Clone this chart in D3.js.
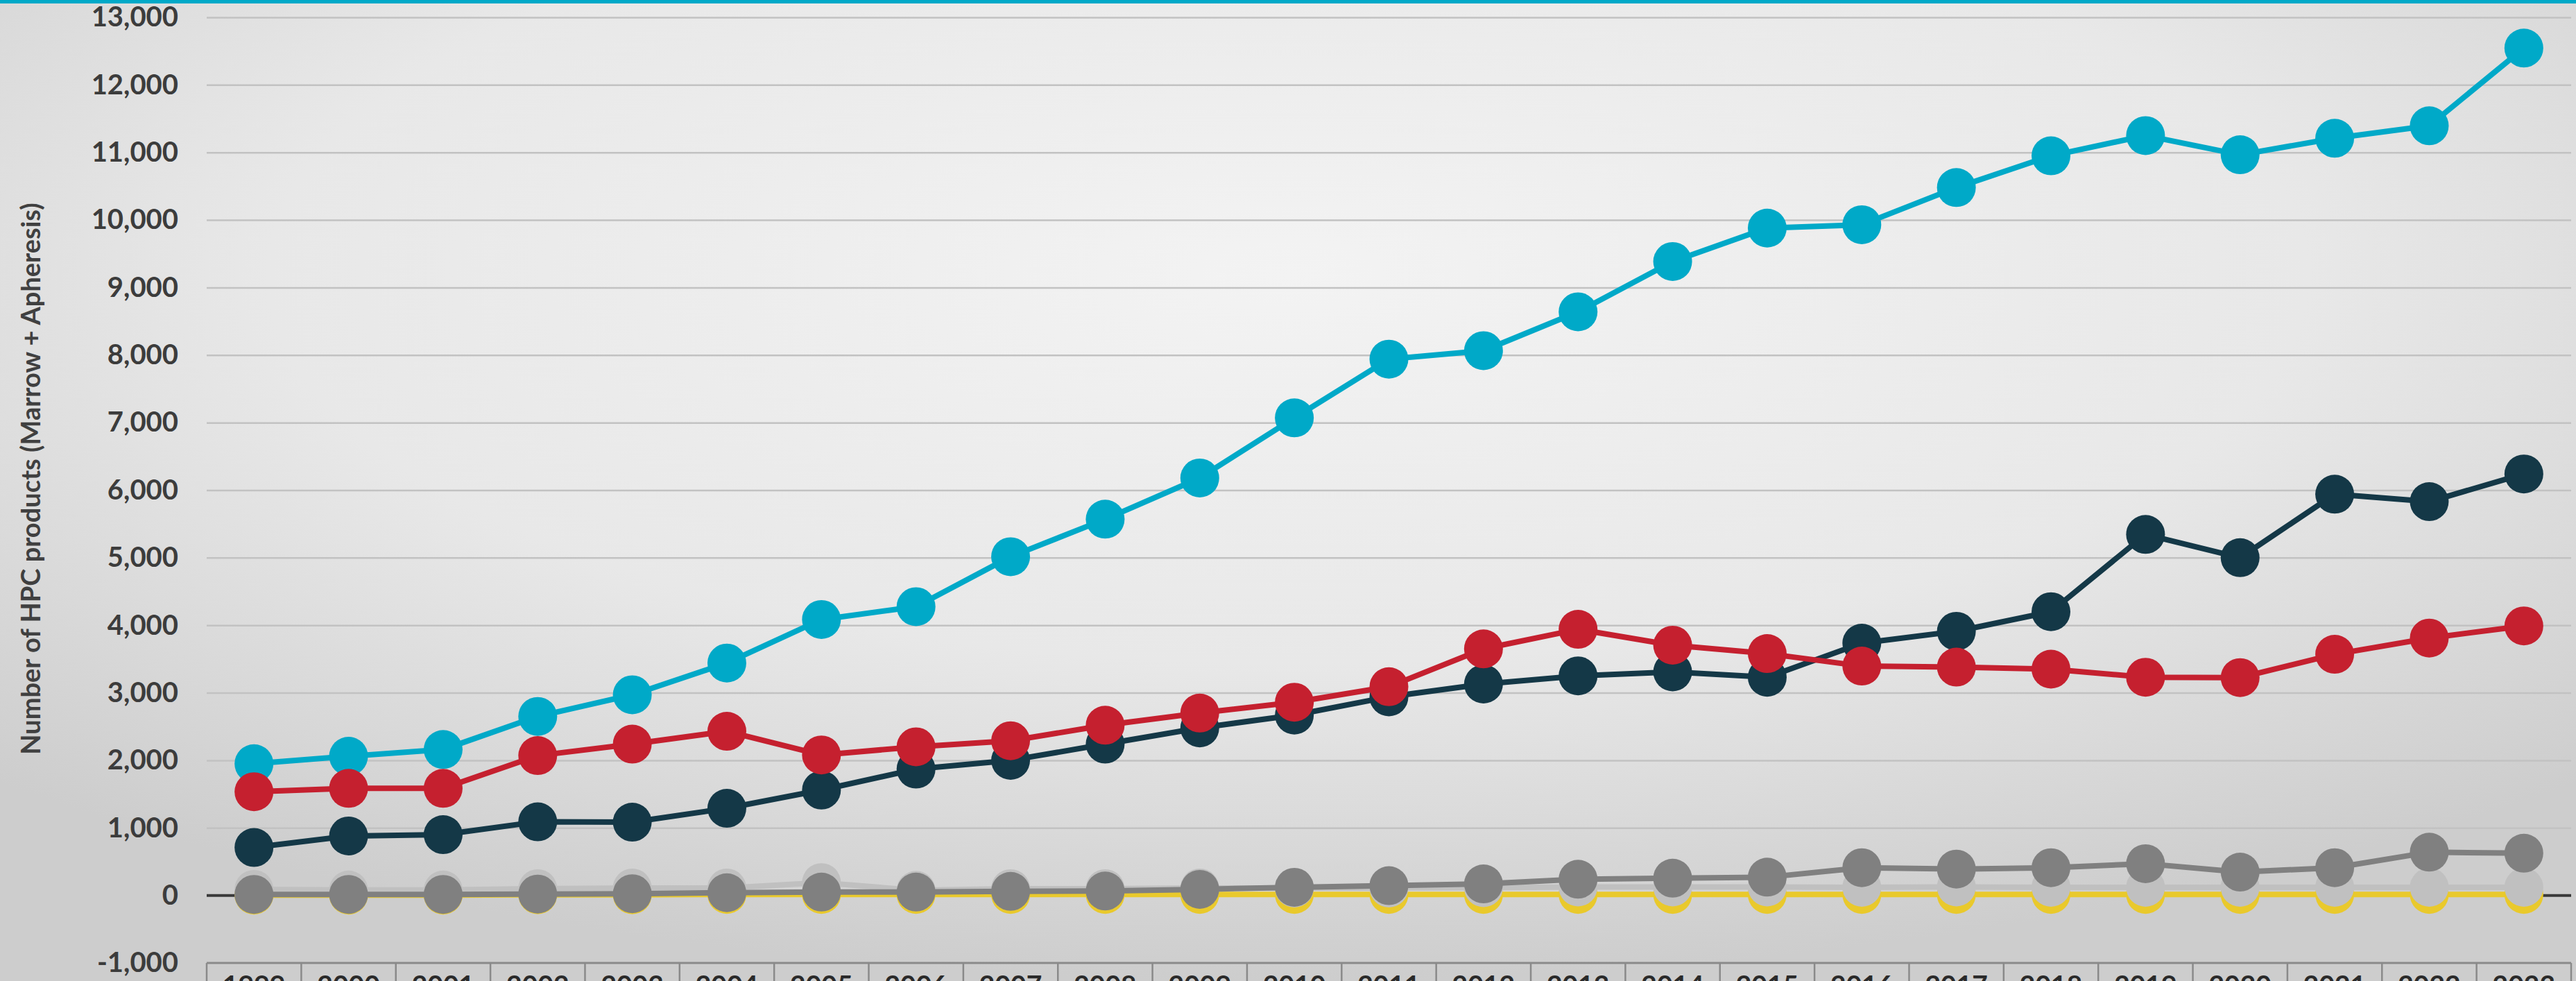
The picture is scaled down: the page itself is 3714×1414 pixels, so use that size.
<!DOCTYPE html>
<html>
<head>
<meta charset="utf-8">
<script src="https://cdn.jsdelivr.net/npm/d3@7"></script>
<style>
  html, body { margin: 0; padding: 0; overflow: hidden; background: #e6e6e6; }
  svg { display: block; }
</style>
</head>
<body>
<svg id="chart" width="3714" height="1414"></svg>
<script>
// ---- data ----
const years = ["1999","2000","2001","2002","2003","2004","2005","2006","2007","2008","2009","2010","2011","2012","2013","2014","2015","2016","2017","2018","2019","2020","2021","2022","2023"];

const tealValues   = [1950,2060,2160,2650,2970,3440,4085,4275,5015,5570,6180,7070,7940,8065,8640,9385,9880,9930,10480,10950,11250,10965,11210,11395,12545];
const navyValues   = [710,880,900,1090,1085,1290,1560,1870,2000,2240,2480,2670,2940,3130,3250,3310,3230,3735,3910,4200,5345,5000,5940,5830,6240];
const redValues    = [1535,1585,1585,2070,2240,2430,2080,2200,2290,2520,2700,2860,3090,3650,3940,3705,3580,3395,3380,3350,3230,3225,3570,3810,3990];
const yellowValues = [5,5,5,10,10,15,15,15,15,15,15,15,15,15,15,15,15,15,15,15,15,15,15,15,15];
const lightGrayValues = [90,80,80,100,110,110,190,75,100,100,110,110,110,115,125,125,125,120,125,120,120,120,120,120,120];
const darkGrayValues  = [15,15,15,20,25,40,50,50,60,65,90,120,145,170,240,255,270,410,390,410,470,345,410,640,625];

const yTickValues = [-1000,0,1000,2000,3000,4000,5000,6000,7000,8000,9000,10000,11000,12000,13000];
const yTitle = "Number of HPC products (Marrow + Apheresis)";

const seriesList = [
  { name: "teal",      values: tealValues,      color: "#00a9c8" },
  { name: "navy",      values: navyValues,      color: "#143847" },
  { name: "red",       values: redValues,       color: "#c5202f" },
  { name: "yellow",    values: yellowValues,    color: "#e9c92c" },
  { name: "lightgray", values: lightGrayValues, color: "#c0c0c0" },
  { name: "darkgray",  values: darkGrayValues,  color: "#808080" }
];

// ---- layout ----
const W = 3714, H = 1414;
const plot = { left: 298, right: 3707, top: 25, bottom: 1388 };
const svg = d3.select("#chart");

// background gradient
const defs = svg.append("defs");
const grad = defs.append("radialGradient").attr("id", "bg")
  .attr("cx", "50%").attr("cy", "28%").attr("r", "72%");
grad.append("stop").attr("offset", "0%").attr("stop-color", "#f3f3f3");
grad.append("stop").attr("offset", "55%").attr("stop-color", "#e8e8e8");
grad.append("stop").attr("offset", "100%").attr("stop-color", "#cdcdcd");
svg.append("rect").attr("width", W).attr("height", H).attr("fill", "url(#bg)");

// top band
svg.append("rect").attr("x", 0).attr("y", 0).attr("width", W).attr("height", 5).attr("fill", "#00a9c8");

const x = d3.scaleBand().domain(years).range([plot.left, plot.right]).padding(0);
const y = d3.scaleLinear().domain([-1000, 13000]).range([plot.bottom, plot.top]);

const fmt = d3.formatLocale({ decimal: ".", thousands: ",", grouping: [3], currency: ["", ""], minus: "-" }).format(",");

// gridlines + y labels
const yAxis = d3.axisLeft(y).tickValues(yTickValues).tickFormat(fmt)
  .tickSize(-(plot.right - plot.left)).tickPadding(41);
const gy = svg.append("g").attr("transform", `translate(${plot.left},0)`).call(yAxis);
gy.select(".domain").remove();
gy.selectAll(".tick line")
  .attr("stroke", d => (d === -1000 || d === 0) ? "none" : "#c2c2c2")
  .attr("stroke-width", 2.5);
gy.selectAll(".tick text")
  .attr("font-family", "Lato, 'Open Sans', sans-serif")
  .attr("font-weight", 700)
  .attr("font-size", 40)
  .attr("fill", "#3c3c3c");

// y title
svg.append("text")
  .attr("transform", `translate(48,690) rotate(-90)`)
  .attr("text-anchor", "middle")
  .attr("dominant-baseline", "middle")
  .attr("font-family", "Lato, 'Open Sans', sans-serif")
  .attr("font-weight", 700)
  .attr("font-size", 38)
  .attr("fill", "#404040")
  .text(yTitle);

// zero axis line
svg.append("line")
  .attr("x1", plot.left).attr("x2", plot.right)
  .attr("y1", y(0)).attr("y2", y(0))
  .attr("stroke", "#3a3a3a").attr("stroke-width", 4);

// data table at bottom
const table = svg.append("g");
table.append("line")
  .attr("x1", plot.left).attr("x2", plot.right)
  .attr("y1", plot.bottom).attr("y2", plot.bottom)
  .attr("stroke", "#8a8a8a").attr("stroke-width", 3);
const edges = years.map(d => x(d)).concat([plot.right]);
table.selectAll("line.sep").data(edges).join("line")
  .attr("class", "sep")
  .attr("x1", d => d).attr("x2", d => d)
  .attr("y1", plot.bottom).attr("y2", H + 10)
  .attr("stroke", "#8a8a8a").attr("stroke-width", 2.5);
table.selectAll("text.yr").data(years).join("text")
  .attr("class", "yr")
  .attr("x", d => x(d) + x.bandwidth() / 2)
  .attr("y", 1434)
  .attr("text-anchor", "middle")
  .attr("font-family", "Lato, 'Open Sans', sans-serif")
  .attr("font-weight", 700)
  .attr("font-size", 39)
  .attr("fill", "#2a2a2a")
  .text(d => d);

// series
const line = d3.line()
  .x((d, i) => x(years[i]) + x.bandwidth() / 2)
  .y(d => y(d));

seriesList.forEach(s => {
  const g = svg.append("g").attr("class", "series-" + s.name);
  g.append("path")
    .datum(s.values)
    .attr("d", line)
    .attr("fill", "none")
    .attr("stroke", s.color)
    .attr("stroke-width", 8)
    .attr("stroke-linejoin", "round");
  g.selectAll("circle").data(s.values).join("circle")
    .attr("cx", (d, i) => x(years[i]) + x.bandwidth() / 2)
    .attr("cy", d => y(d))
    .attr("r", 28)
    .attr("fill", s.color);
});
</script>
</body>
</html>
